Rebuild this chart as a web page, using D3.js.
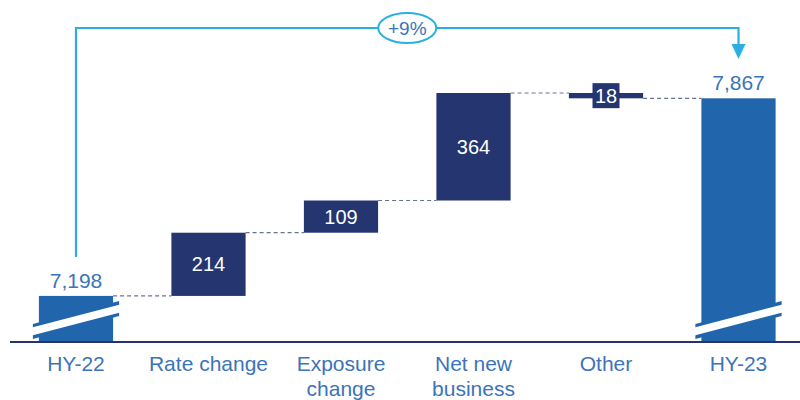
<!DOCTYPE html>
<html>
<head>
<meta charset="utf-8">
<script src="https://cdn.jsdelivr.net/npm/d3@7"></script>
<style>
  body { margin: 0; background: #fff; }
  svg { display: block; font-family: "Liberation Sans", Arial, sans-serif; }
</style>
</head>
<body>
<svg width="800" height="400"></svg>
<script>
// data
const categories = ["HY-22", "Rate change", "Exposure change", "Net new business", "Other", "HY-23"]
const labelLines = [["HY-22"], ["Rate change"], ["Exposure", "change"], ["Net new", "business"], ["Other"], ["HY-23"]]
const startValue = 7198
const deltas = [214, 109, 364, -18]
const endValue = 7867
const growthLabel = "+9%"

const totalColor = "#2166ad"
const deltaColor = "#25356f"
const textColor = "#3b74b9"
const bracketColor = "#29afe4"

const svg = d3.select("svg")
const baseY = 342

const x = d3.scaleBand()
  .domain(categories)
  .range([9.75, 804.75])
  .paddingInner(0.44)
  .paddingOuter(0.22)

const y = d3.scaleLinear()
  .domain([7042, 7885])
  .range([baseY, 93])

// build steps
const steps = []
steps.push({ cat: categories[0], lo: y.domain()[0], hi: startValue, total: true, value: startValue })
let run = startValue
deltas.forEach((d, i) => {
  const from = run
  run += d
  steps.push({ cat: categories[i + 1], lo: Math.min(from, run), hi: Math.max(from, run), total: false, value: d, from: from, to: run })
})
steps.push({ cat: categories[5], lo: y.domain()[0], hi: endValue, total: true, value: endValue })

// connectors
const conn = svg.append("g")
for (let i = 0; i < steps.length - 1; i++) {
  const a = steps[i], b = steps[i + 1]
  const level = a.total ? a.hi : a.to
  conn.append("line")
    .attr("x1", x(a.cat) + x.bandwidth())
    .attr("x2", x(b.cat))
    .attr("y1", y(level))
    .attr("y2", y(level))
    .attr("stroke", "#6a7292")
    .attr("stroke-width", 1.2)
    .attr("stroke-dasharray", "4,3")
}

// bars
svg.append("g").selectAll("rect")
  .data(steps)
  .join("rect")
  .attr("x", d => x(d.cat))
  .attr("width", x.bandwidth())
  .attr("y", d => y(d.hi))
  .attr("height", d => y(d.lo) - y(d.hi))
  .attr("fill", d => d.total ? totalColor : deltaColor)

// break marks on totals
steps.filter(d => d.total).forEach(d => {
  const x0 = x(d.cat) - 6, x1 = x(d.cat) + x.bandwidth() + 6
  const g = svg.append("g")
  g.append("polygon")
    .attr("points", [[x0, 339], [x1, 316], [x1, 301], [x0, 324]].map(p => p.join(",")).join(" "))
    .attr("fill", totalColor)
  g.append("polygon")
    .attr("points", [[x0 - 1, 335.5], [x1 + 1, 312.5], [x1 + 1, 304.5], [x0 - 1, 327.5]].map(p => p.join(",")).join(" "))
    .attr("fill", "#fff")
})

// axis line
svg.append("line")
  .attr("x1", 10).attr("x2", 800)
  .attr("y1", baseY).attr("y2", baseY)
  .attr("stroke", "#27346c")
  .attr("stroke-width", 2.2)

// value labels
const fmt = d3.format(",")
steps.forEach(d => {
  const cx = x(d.cat) + x.bandwidth() / 2
  if (d.total) {
    svg.append("text")
      .attr("x", cx).attr("y", y(d.hi) - 8)
      .attr("text-anchor", "middle")
      .attr("font-size", 21)
      .attr("fill", textColor)
      .text(fmt(d.value))
  } else {
    const cy = (y(d.lo) + y(d.hi)) / 2
    if (y(d.lo) - y(d.hi) < 20) {
      svg.append("rect")
        .attr("x", cx - 13.5).attr("y", cy - 12.5)
        .attr("width", 27).attr("height", 25)
        .attr("fill", deltaColor)
    }
    svg.append("text")
      .attr("x", cx).attr("y", cy + 7)
      .attr("text-anchor", "middle")
      .attr("font-size", 20)
      .attr("fill", "#fff")
      .text(fmt(Math.abs(d.value)))
  }
})

// category labels
categories.forEach((c, i) => {
  const t = svg.append("text")
    .attr("x", x(c) + x.bandwidth() / 2)
    .attr("y", 371)
    .attr("text-anchor", "middle")
    .attr("font-size", 21)
    .attr("fill", textColor)
  labelLines[i].forEach((line, j) => {
    t.append("tspan")
      .attr("x", x(c) + x.bandwidth() / 2)
      .attr("dy", j === 0 ? 0 : 25)
      .text(line)
  })
})

// growth bracket
const lx = x(categories[0]) + x.bandwidth() / 2
const rx = x(categories[5]) + x.bandwidth() / 2
const topY = 28
svg.append("path")
  .attr("d", `M${lx},257 V${topY} H${rx} V46`)
  .attr("fill", "none")
  .attr("stroke", bracketColor)
  .attr("stroke-width", 2.2)
svg.append("path")
  .attr("d", `M${rx - 7},44 L${rx + 7},44 L${rx},59 Z`)
  .attr("fill", bracketColor)
const mx = (lx + rx) / 2
svg.append("ellipse")
  .attr("cx", mx).attr("cy", topY)
  .attr("rx", 29).attr("ry", 15)
  .attr("fill", "#fff")
  .attr("stroke", bracketColor)
  .attr("stroke-width", 2)
svg.append("text")
  .attr("x", mx).attr("y", topY + 7)
  .attr("text-anchor", "middle")
  .attr("font-size", 19)
  .attr("fill", textColor)
  .text(growthLabel)
</script>
</body>
</html>
